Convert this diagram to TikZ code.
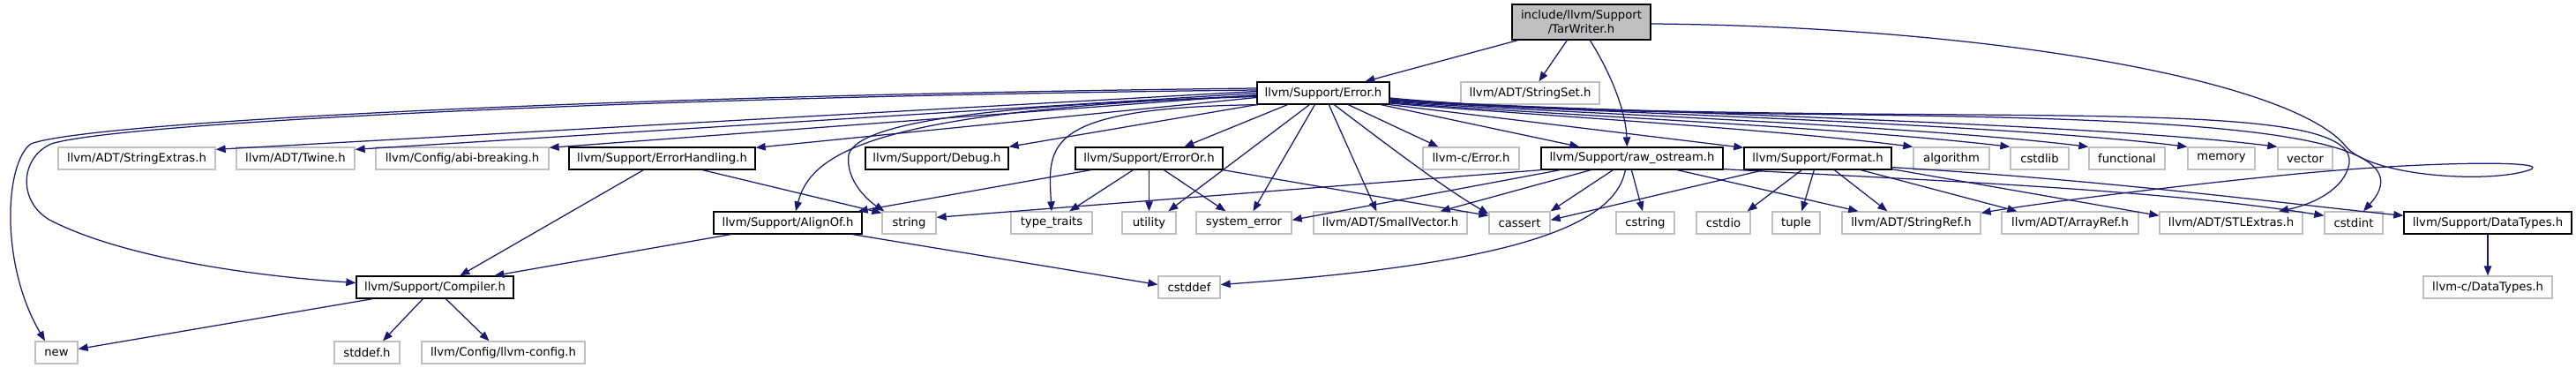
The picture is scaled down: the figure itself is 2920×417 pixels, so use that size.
\documentclass[tikz,border=0pt]{standalone}
\usepackage{fontspec}
\setmainfont{DejaVu Sans}
\usetikzlibrary{arrows.meta}
\definecolor{edgec}{HTML}{191970}
\definecolor{gbord}{HTML}{BFBFBF}
\definecolor{tarfill}{HTML}{BFBFBF}
\newcommand{\nfont}{\fontsize{13.2}{15.5}\selectfont}
\begin{document}
\begin{tikzpicture}[x=1pt,y=-1pt,
  box/.style={draw, line width=1.3pt, fill=white, minimum height=25pt, inner sep=0pt, font=\nfont},
  ext/.style={box, draw=gbord},
  doc/.style={box, draw=black},
  e/.style={draw=edgec, line width=1.25pt, -{Triangle[length=11pt,width=8.5pt]}}]
\fill[white] (0,0) rectangle (2920,417);
\useasboundingbox (0,0) rectangle (2920,417);
% row 0
\node[doc,minimum width=157pt,minimum height=40pt,fill=tarfill,align=center] (tar) at (1792.5,25) {include/llvm/Support\\/TarWriter.h};
% row 1
\node[doc,minimum width=150pt] (err) at (1500,105.5) {llvm/Support/Error.h};
\node[ext,minimum width=157pt] (sset) at (1734.5,105.5) {llvm/ADT/StringSet.h};
% row 2
\node[ext,minimum width=178pt] (sext) at (155,179.5) {llvm/ADT/StringExtras.h};
\node[ext,minimum width=134pt] (twine) at (335,179.5) {llvm/ADT/Twine.h};
\node[ext,minimum width=196pt] (abi) at (524,179.5) {llvm/Config/abi-breaking.h};
\node[doc,minimum width=211pt] (eh) at (750.5,179.5) {llvm/Support/ErrorHandling.h};
\node[doc,minimum width=162pt] (dbg) at (1062,179.5) {llvm/Support/Debug.h};
\node[doc,minimum width=167pt] (eor) at (1302.5,179.5) {llvm/Support/ErrorOr.h};
\node[ext,minimum width=109pt] (cerr) at (1667.5,179.5) {llvm-c/Error.h};
\node[doc,minimum width=206pt] (ros) at (1850,179.5) {llvm/Support/raw\_ostream.h};
\node[doc,minimum width=167pt] (fmt) at (2060.5,179.5) {llvm/Support/Format.h};
\node[ext,minimum width=86pt] (algo) at (2212,179.5) {algorithm};
\node[ext,minimum width=66pt] (cstdlib) at (2312,179.5) {cstdlib};
\node[ext,minimum width=86pt] (func) at (2411,179.5) {functional};
\node[ext,minimum width=76pt] (mem) at (2518,179.5) {memory};
\node[ext,minimum width=62pt] (vec) at (2613,179.5) {vector};
% row 3
\node[doc,minimum width=168pt] (align) at (893,252.5) {llvm/Support/AlignOf.h};
\node[ext,minimum width=61pt] (string) at (1030.5,252.5) {string};
\node[ext,minimum width=92pt] (tt) at (1192,252.5) {type\_traits};
\node[ext,minimum width=61pt] (util) at (1302.5,252.5) {utility};
\node[ext,minimum width=108pt] (syserr) at (1410,252.5) {system\_error};
\node[ext,minimum width=174pt] (svec) at (1576,252.5) {llvm/ADT/SmallVector.h};
\node[ext,minimum width=69pt] (cassert) at (1722.5,252.5) {cassert};
\node[ext,minimum width=66pt] (cstring) at (1865,252.5) {cstring};
\node[ext,minimum width=61pt] (cstdio) at (1953.5,252.5) {cstdio};
\node[ext,minimum width=54pt] (tuple) at (2036,252.5) {tuple};
\node[ext,minimum width=157pt] (sref) at (2166.5,252.5) {llvm/ADT/StringRef.h};
\node[ext,minimum width=155pt] (aref) at (2346.5,252.5) {llvm/ADT/ArrayRef.h};
\node[ext,minimum width=162pt] (stl) at (2529,252.5) {llvm/ADT/STLExtras.h};
\node[ext,minimum width=66pt] (cstdint) at (2668,252.5) {cstdint};
\node[doc,minimum width=190pt] (dtypes) at (2820,252.5) {llvm/Support/DataTypes.h};
% row 4
\node[doc,minimum width=178pt] (comp) at (493,325.5) {llvm/Support/Compiler.h};
\node[ext,minimum width=70pt] (cstddef) at (1348,325.5) {cstddef};
\node[ext,minimum width=146pt] (cdtypes) at (2820,325.5) {llvm-c/DataTypes.h};
% row 5
\node[ext,minimum width=48pt] (new) at (64,399.5) {new};
\node[ext,minimum width=74pt] (stddef) at (416,399.5) {stddef.h};
\node[ext,minimum width=185pt] (llvmcfg) at (570.5,399.5) {llvm/Config/llvm-config.h};

% TarWriter edges
\draw[e] ([xshift=7pt]tar.south west) -- ([xshift=123pt]err.north west);
\draw[e] ([xshift=63pt]tar.south west) -- ([xshift=89pt]sset.north west);
\draw[e] ([xshift=89pt]tar.south west) .. controls (1830,90) and (1843,130) .. ([xshift=98pt]ros.north west);
\draw[e] ([yshift=-2pt]tar.east) .. controls (2250,30) and (2600,90) .. (2660,167)
   .. controls (2690,200) and (2820,208) .. (2866,193)
   .. controls (2900,182) and (2760,182) .. (2604,197)
   .. controls (2450,212) and (2300,232) .. ([yshift=-2pt]sref.north east);

% Error.h edges, left side
\draw[e] ([yshift=5.5pt]err.west) .. controls (700,108) and (100,138) .. (35,163)
   .. controls (5,185) and (0,300) .. ([xshift=-13pt]new.north);
\draw[e] ([yshift=3.5pt]err.west) .. controls (700,110) and (130,140) .. (58,163)
   .. controls (20,180) and (20,235) .. (64,253)
   .. controls (130,285) and (250,310) .. ([yshift=5pt]comp.west);
\draw[e] ([yshift=2pt]err.west) -- ([yshift=-3pt]sext.north east);
\draw[e] (err.west) -- ([yshift=-3pt]twine.north east);
\draw[e] ([yshift=-2pt]err.west) -- ([yshift=-1pt]abi.north east);
\draw[e] ([yshift=-5pt]err.west) -- ([yshift=-1pt]eh.north east);
\draw[e] (err.south west) -- (dbg.north east);
\draw[e] ([yshift=-3pt]err.west) .. controls (1000,125) and (920,170) .. ([xshift=9pt]align.north);
\draw[e] ([yshift=-4pt]err.west) .. controls (1150,118) and (975,135) .. (962,175)
   .. controls (958,205) and (985,228) .. ([xshift=3pt]string.north west);
\draw[e] ([xshift=2pt]err.south west) .. controls (1180,122) and (1188,165) .. (tt.north);
% Error.h edges, bottom
\draw[e] ([xshift=35pt]err.south west) -- ([xshift=124pt]eor.north west);
\draw[e] ([xshift=60pt]err.south west) -- ([xshift=53pt]util.north west);
\draw[e] ([xshift=66pt]err.south west) -- ([xshift=65pt]syserr.north west);
\draw[e] ([xshift=82pt]err.south west) -- ([xshift=72pt]svec.north west);
\draw[e] ([xshift=88pt]err.south west) .. controls (1580,170) and (1640,215) .. ([yshift=-3pt]cassert.north west);
\draw[e] ([xshift=104pt]err.south west) -- ([xshift=18pt]cerr.north west);
\draw[e] ([xshift=141pt]err.south west) -- ([xshift=44pt]ros.north west);
% Error.h edges, right side (pass below StringSet)
\draw[e] (err.south east) -- ([yshift=-1pt]fmt.north west);
\draw[e] ([yshift=-11.5pt]err.east) .. controls (1700,128) and (2000,145) .. (algo.north west);
\draw[e] ([yshift=-10.5pt]err.east) .. controls (1700,127) and (2080,143) .. (cstdlib.north west);
\draw[e] ([yshift=-9.5pt]err.east) .. controls (1700,125) and (2150,140) .. (func.north west);
\draw[e] ([yshift=-8.5pt]err.east) .. controls (1700,124) and (2250,138) .. (mem.north west);
\draw[e] ([yshift=-7.5pt]err.east) .. controls (1700,123) and (2350,137) .. (vec.north west);
\draw[e] ([yshift=-6.5pt]err.east) .. controls (1700,124) and (1900,128) .. (2100,130)
   .. controls (2500,135) and (2760,150) .. ([xshift=11pt]cstdint.north);
\draw[e] ([yshift=-5.5pt]err.east) .. controls (1700,123) and (1900,127) .. (2100,129)
   .. controls (2450,132) and (2670,128) .. (2663,185)
   .. controls (2658,215) and (2620,232) .. ([xshift=54pt]stl.north);

% ErrorHandling
\draw[e] ([xshift=85pt]eh.south west) -- ([xshift=118pt]comp.north west);
\draw[e] ([xshift=152pt]eh.south west) -- ([yshift=-2pt]string.north west);
% ErrorOr
\draw[e] ([xshift=18pt]eor.south west) -- ([xshift=-5pt]align.north east);
\draw[e] ([xshift=66pt]eor.south west) -- ([xshift=67pt]tt.north west);
\draw[e] (eor.south) -- (util.north);
\draw[e] ([xshift=101pt]eor.south west) -- ([xshift=34pt]syserr.north west);
\draw[e] (eor.south east) -- ([yshift=-5pt]cassert.north west);
% raw_ostream
\draw[e] (ros.south west) -- ([yshift=-7pt]string.north east);
\draw[e] ([xshift=22pt]ros.south west) -- ([yshift=-10pt]syserr.north east);
\draw[e] ([xshift=57pt]ros.south west) -- ([xshift=-31pt]svec.north east);
\draw[e] ([xshift=82pt]ros.south west) -- (cassert.north east);
\draw[e] ([xshift=103pt]ros.south west) -- ([xshift=-3pt]cstring.north);
\draw[e] ([xshift=96pt]ros.south west) .. controls (1830,260) and (1700,300) .. ([yshift=3pt]cstddef.east);
\draw[e] ([xshift=155pt]ros.south west) -- ([xshift=19pt]sref.north west);
\draw[e] ([yshift=1pt]ros.south east) .. controls (2200,205) and (2450,215) .. ([yshift=-5pt]cstdint.north west);
% Format
\draw[e] ([xshift=23pt]fmt.south west) -- ([yshift=-10pt]cassert.north east);
\draw[e] ([xshift=66pt]fmt.south west) -- ([xshift=-4pt]cstdio.north east);
\draw[e] ([xshift=80pt]fmt.south west) -- ([xshift=34pt]tuple.north west);
\draw[e] ([xshift=103pt]fmt.south west) -- ([xshift=52pt]sref.north west);
\draw[e] ([xshift=133pt]fmt.south west) -- ([xshift=18pt]aref.north west);
\draw[e] ([yshift=1pt]fmt.south east) -- ([yshift=-5pt]stl.north west);
\draw[e] ([yshift=3pt]fmt.south east) .. controls (2400,205) and (2600,232) .. ([yshift=-5pt]dtypes.north west);
% AlignOf
\draw[e] ([xshift=20pt]align.south west) -- ([xshift=157pt]comp.north west);
\draw[e] ([xshift=-11pt]align.south east) -- ([yshift=3pt]cstddef.west);
% Compiler
\draw[e] ([xshift=19pt]comp.south west) -- ([yshift=4pt]new.east);
\draw[e] ([xshift=76pt]comp.south west) -- ([xshift=18pt]stddef.north);
\draw[e] ([xshift=102pt]comp.south west) -- ([xshift=-16pt]llvmcfg.north);
% DataTypes
\draw[e] (dtypes.south) -- (cdtypes.north);
\end{tikzpicture}
\end{document}
